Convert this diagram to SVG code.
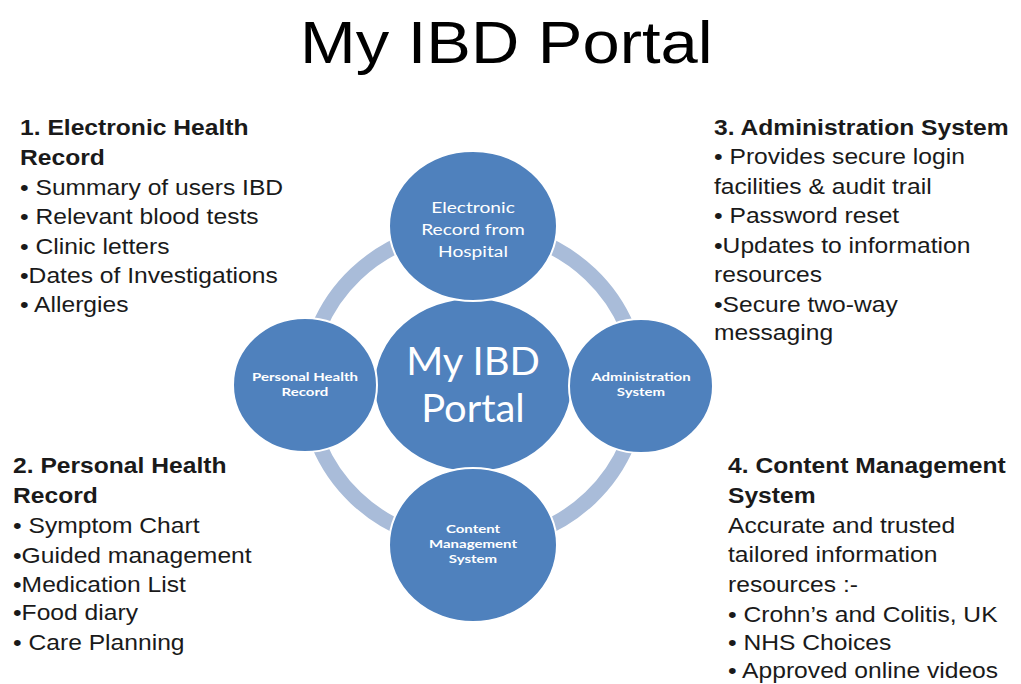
<svg xmlns="http://www.w3.org/2000/svg" width="1021" height="684" viewBox="0 0 1021 684">
<style>
.t{font-family:"Liberation Sans",Arial,sans-serif;font-size:22px;fill:#1a1a1a}
.b{font-weight:bold}
.node{fill:#4f81bd;stroke:#ffffff;stroke-width:2}
.nt{font-family:Lato,"Open Sans",sans-serif;fill:#ffffff;text-anchor:middle}
.sm{font-size:12px;font-weight:bold}
</style>
<rect width="1021" height="684" fill="#ffffff"/>
<text class="t" transform="translate(300 0) scale(1.115 1)" x="0" y="63" style="font-size:60px;fill:#000">My IBD Portal</text>

<g id="connectors">
<ellipse cx="473" cy="386" rx="166" ry="158" fill="none" stroke="#a9bcd9" stroke-width="15"/>
</g>

<g id="center">
<ellipse class="node" cx="473" cy="385" rx="99" ry="87"/>
<g transform="translate(473 0) scale(1.05 1)"><text class="nt" x="0" y="375" font-size="38">My IBD</text><text class="nt" x="0" y="422" font-size="38">Portal</text></g>
</g>
<g id="node-ehr">
<ellipse class="node" cx="473" cy="226" rx="84" ry="75"/>
<g transform="translate(473 0) scale(1.2 1)"><text class="nt" x="0" y="213" font-size="16">Electronic</text><text class="nt" x="0" y="235" font-size="16">Record from</text><text class="nt" x="0" y="257" font-size="16">Hospital</text></g>
</g>
<g id="node-phr">
<ellipse class="node" cx="305" cy="385" rx="72" ry="67"/>
<g transform="translate(305 0) scale(1.25 1)"><text class="nt sm" x="0" y="381">Personal Health</text><text class="nt sm" x="0" y="396">Record</text></g>
</g>
<g id="node-admin">
<ellipse class="node" cx="641" cy="386" rx="72" ry="67"/>
<g transform="translate(641 0) scale(1.25 1)"><text class="nt sm" x="0" y="381">Administration</text><text class="nt sm" x="0" y="396">System</text></g>
</g>
<g id="node-cms">
<ellipse class="node" cx="473" cy="545" rx="84" ry="77"/>
<g transform="translate(473 0) scale(1.25 1)"><text class="nt sm" x="0" y="533">Content</text><text class="nt sm" x="0" y="548">Management</text><text class="nt sm" x="0" y="563">System</text></g>
</g>

<g id="block1" transform="translate(20 0) scale(1.12 1)">
<text class="t b" x="0" y="135">1. Electronic Health</text>
<text class="t b" x="0" y="165">Record</text>
<text class="t" x="0" y="195">• Summary of users IBD</text>
<text class="t" x="0" y="224">• Relevant blood tests</text>
<text class="t" x="0" y="254">• Clinic letters</text>
<text class="t" x="0" y="283">•Dates of Investigations</text>
<text class="t" x="0" y="312">• Allergies</text>
</g>
<g id="block2" transform="translate(13 0) scale(1.12 1)">
<text class="t b" x="0" y="473">2. Personal Health</text>
<text class="t b" x="0" y="503">Record</text>
<text class="t" x="0" y="533">• Symptom Chart</text>
<text class="t" x="0" y="563">•Guided management</text>
<text class="t" x="0" y="592">•Medication List</text>
<text class="t" x="0" y="620">•Food diary</text>
<text class="t" x="0" y="650">• Care Planning</text>
</g>
<g id="block3" transform="translate(714 0) scale(1.12 1)">
<text class="t b" x="0" y="135">3. Administration System</text>
<text class="t" x="0" y="164">• Provides secure login</text>
<text class="t" x="0" y="194">facilities &amp; audit trail</text>
<text class="t" x="0" y="223">• Password reset</text>
<text class="t" x="0" y="253">•Updates to information</text>
<text class="t" x="0" y="282">resources</text>
<text class="t" x="0" y="312">•Secure two-way</text>
<text class="t" x="0" y="340">messaging</text>
</g>
<g id="block4" transform="translate(728 0) scale(1.12 1)">
<text class="t b" x="0" y="473">4. Content Management</text>
<text class="t b" x="0" y="503">System</text>
<text class="t" x="0" y="533">Accurate and trusted</text>
<text class="t" x="0" y="562">tailored information</text>
<text class="t" x="0" y="592">resources :-</text>
<text class="t" x="0" y="622">• Crohn’s and Colitis, UK</text>
<text class="t" x="0" y="650">• NHS Choices</text>
<text class="t" x="0" y="678">• Approved online videos</text>
</g>
</svg>
